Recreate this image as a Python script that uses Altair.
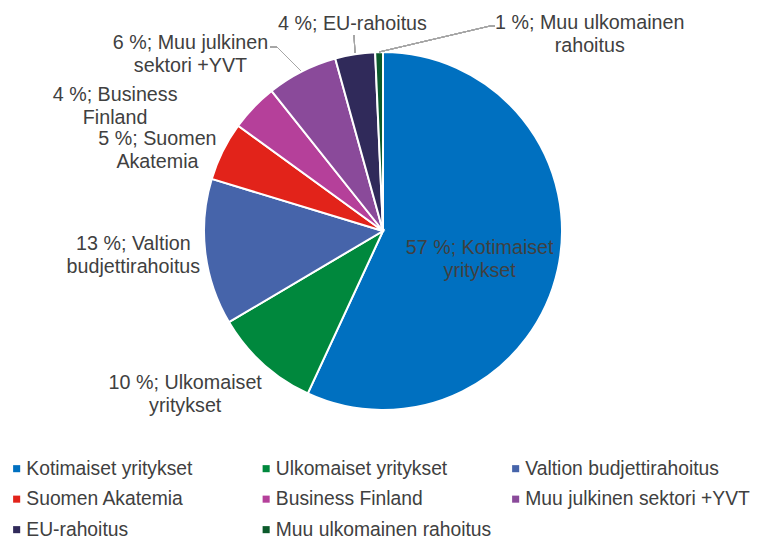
import altair as alt
import pandas as pd

# ---- data ----
categories = [
    "Kotimaiset yritykset",
    "Ulkomaiset yritykset",
    "Valtion budjettirahoitus",
    "Suomen Akatemia",
    "Business Finland",
    "Muu julkinen sektori +YVT",
    "EU-rahoitus",
    "Muu ulkomainen rahoitus",
]
shares = [56.9, 9.6, 13.2, 5.3, 4.3, 6.4, 3.6, 0.7]
label_texts = [
    "57 %; Kotimaiset\nyritykset",
    "10 %; Ulkomaiset\nyritykset",
    "13 %; Valtion\nbudjettirahoitus",
    "5 %; Suomen\nAkatemia",
    "4 %; Business\nFinland",
    "6 %; Muu julkinen\nsektori +YVT",
    "4 %; EU-rahoitus",
    "1 %; Muu ulkomainen\nrahoitus",
]
colors = ["#0070C0", "#00883D", "#4664AA", "#E2231A", "#B5409A", "#8A4A9A", "#302A5A", "#0B5A2B"]

df = pd.DataFrame({
    "cat": categories,
    "share": shares,
    "label": label_texts,
    "idx": list(range(len(categories))),
})

# ---- layout / style (not data) ----
W, H = 745, 532
CX, CY = 375, 223          # pie centre inside the plot area
R = 179
FONT = "Liberation Sans"
FS = 19.7
LFS = 19.3
TXT = "#404040"

# label placement: radius from centre and fine offsets
label_style = {
    "Kotimaiset yritykset": (100, -1, -5),
    "Ulkomaiset yritykset": (195, -67, 7),
    "Valtion budjettirahoitus": (195, -56, -10),
    "Suomen Akatemia": (195, -51, -5),
    "Business Finland": (195, -127, -1),
    "Muu julkinen sektori +YVT": (195, -104, -14),
    "EU-rahoitus": (195, 0, -14),
    "Muu ulkomainen rahoitus": (195, 211, -13),
}

base = alt.Chart(df)

pie = base.mark_arc(outerRadius=R, stroke="white", strokeWidth=2).encode(
    theta=alt.Theta("share:Q", stack=True),
    order=alt.Order("idx:Q", sort="ascending"),
    color=alt.Color(
        "cat:N",
        sort=categories,
        scale=alt.Scale(domain=categories, range=colors),
        legend=alt.Legend(
            title=None,
            orient="none",
            direction="horizontal",
            legendX=-1,
            legendY=451,
            columns=3,
            symbolType="square",
            symbolSize=50,
            symbolStrokeWidth=0,
            labelFont=FONT,
            labelFontSize=LFS,
            labelColor=TXT,
            labelLimit=400,
            labelOffset=0,
            gridAlign="all",
            columnPadding=5.5,
            rowPadding=10.5,
            padding=0,
        ),
    ),
    x=alt.value(CX),
    y=alt.value(CY),
)

mids = base.transform_joinaggregate(
    total="sum(share)"
).transform_window(
    cum="sum(share)", sort=[alt.SortField("idx", order="ascending")]
).transform_calculate(
    mid="(datum.cum - datum.share / 2) / datum.total * 2 * PI"
)

label_layers = []
for cat, (rad, ddx, ddy) in label_style.items():
    label_layers.append(
        mids.transform_filter(alt.datum.cat == cat).mark_text(
            radius=rad, dx=ddx, dy=ddy, font=FONT, fontSize=FS, color=TXT,
            align="center", baseline="middle", lineBreak="\n", lineHeight=23,
        ).encode(
            theta=alt.Theta("mid:Q", scale=None, stack=False),
            text="label:N",
            x=alt.value(CX),
            y=alt.value(CY),
        )
    )

# leader lines (annotation decoration)
def seg(x1, y1, x2, y2):
    return base.mark_rule(color="#A6A6A6", strokeWidth=1).encode(
        x=alt.value(x1), y=alt.value(y1), x2=alt.value(x2), y2=alt.value(y2)
    )

leaders = [
    seg(262, 39, 269, 39),
    seg(269, 39, 293, 63),
    seg(346, 27, 347, 45),
    seg(487, 18, 482, 18),
    seg(482, 18, 371, 44),
]

chart = alt.layer(pie, *leaders, *label_layers).properties(
    width=W, height=H, padding=0, autosize=alt.AutoSizeParams(type="none")
).configure_view(stroke=None)

chart.save("out.html", embed_options={"renderer": "svg", "actions": False})
